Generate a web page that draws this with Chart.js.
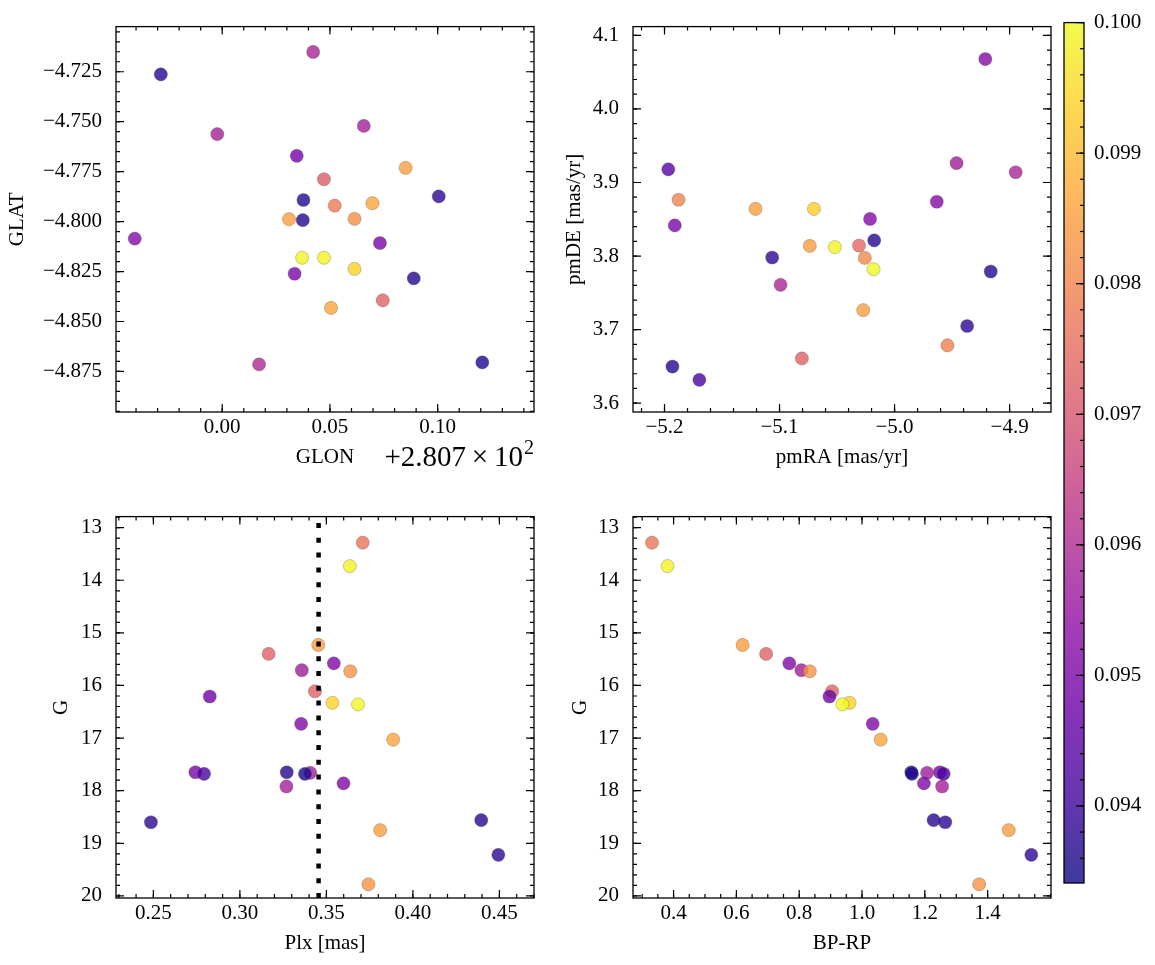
<!DOCTYPE html>
<html>
<head>
<meta charset="utf-8">
<script src="https://cdn.jsdelivr.net/npm/chart.js@4.4.1/dist/chart.umd.min.js"></script>
<style>
html, body { margin: 0; padding: 0; background: #ffffff; }
body { width: 1155px; height: 965px; position: relative; overflow: hidden; }
canvas { position: absolute; }
</style>
</head>
<body>
<canvas id="tl"></canvas>
<canvas id="tr"></canvas>
<canvas id="bl"></canvas>
<canvas id="br"></canvas>
<canvas id="cb"></canvas>
<script>
// ---------------- DATA ----------------
// Panel 1: galactic position
const glon = [280.7422, 280.6715, 280.6977, 280.7657, 280.7346, 280.7851, 280.7472, 280.7377, 280.8005, 280.7522,
              280.7697, 280.7310, 280.7374, 280.7614, 280.6594, 280.7732, 280.7371, 280.7472, 280.7614, 280.7336,
              280.7889, 280.7745, 280.7505, 280.7171, 280.8207];
const glat = [-4.7151, -4.7263, -4.7562, -4.7521, -4.7671, -4.7731, -4.7788, -4.7892, -4.7874, -4.7920,
              -4.7908, -4.7988, -4.7993, -4.7986, -4.8085, -4.8107, -4.8181, -4.8181, -4.8237, -4.8261,
              -4.8284, -4.8394, -4.8432, -4.8715, -4.8705];
const colPos = [0.0959, 0.0937, 0.0958, 0.0958, 0.0949, 0.0985, 0.0972, 0.0937, 0.0938, 0.0978,
                0.0986, 0.0985, 0.0937, 0.0982, 0.0952, 0.0950, 0.0999, 0.0999, 0.0994, 0.0950,
                0.0937, 0.0973, 0.0986, 0.0960, 0.0936];

// Panel 2: proper motions
const pmra = [-4.9211, -5.1967, -4.9461, -4.8947, -5.1878, -4.9633, -5.1209, -5.0701, -5.1911, -5.0213,
              -5.0177, -5.0737, -5.0519, -5.0309, -5.0259, -5.1064, -5.0183, -4.9164, -5.0991, -5.0272,
              -4.9369, -4.9540, -5.0806, -5.1931, -5.1697];
const pmde = [4.0678, 3.9179, 3.9263, 3.9139, 3.8765, 3.8738, 3.8641, 3.8641, 3.8416, 3.8504,
              3.8213, 3.8138, 3.8121, 3.8143, 3.7975, 3.7980, 3.7821, 3.7790, 3.7609, 3.7265,
              3.7049, 3.6785, 3.6608, 3.6498, 3.6317];
const colPm = [0.0952, 0.0944, 0.0957, 0.0959, 0.0980, 0.0952, 0.0985, 0.0993, 0.0950, 0.0952,
               0.0937, 0.0985, 0.0999, 0.0974, 0.0981, 0.0938, 0.1000, 0.0937, 0.0959, 0.0985,
               0.0938, 0.0979, 0.0973, 0.0937, 0.0942];

// Panels 3 & 4: photometry / parallax
const gmag = [13.286, 13.731, 15.23, 15.40, 15.58, 15.71, 15.73, 16.11, 16.21, 16.33,
              16.36, 16.73, 17.03, 17.65, 17.66, 17.65, 17.68, 17.68, 17.86, 17.92,
              18.56, 18.60, 18.75, 19.22, 19.78];
const plx  = [0.3710, 0.3636, 0.3453, 0.3166, 0.3543, 0.3358, 0.3638, 0.3434, 0.2826, 0.3535,
              0.3683, 0.3354, 0.3886, 0.2743, 0.3407, 0.3271, 0.3376, 0.2793, 0.3599, 0.3269,
              0.4395, 0.2486, 0.3811, 0.4494, 0.3743];
const bprp = [0.3312, 0.3807, 0.6198, 0.6947, 0.7684, 0.8070, 0.8336, 0.9048, 0.8964, 0.9604,
              0.9374, 1.0340, 1.0594, 1.248, 1.207, 1.157, 1.159, 1.260, 1.197, 1.255,
              1.228, 1.265, 1.467, 1.539, 1.373];
const colPhot = [0.0977, 0.0999, 0.0985, 0.0973, 0.0951, 0.0957, 0.0983, 0.0973, 0.0948, 0.0994,
                 0.1000, 0.0951, 0.0986, 0.0950, 0.0957, 0.0937, 0.0936, 0.0942, 0.0951, 0.0958,
                 0.0937, 0.0938, 0.0985, 0.0938, 0.0983];
const plxRef = 0.3455;

// Tick labels
const glonOffset = 280.7;
const glonTicks = [280.70, 280.75, 280.80];
const glatTicks = [-4.875, -4.850, -4.825, -4.800, -4.775, -4.750, -4.725];
const pmraTicks = [-5.2, -5.1, -5.0, -4.9];
const pmdeTicks = [3.6, 3.7, 3.8, 3.9, 4.0, 4.1];
const plxTicks  = [0.25, 0.30, 0.35, 0.40, 0.45];
const gTicks    = [13, 14, 15, 16, 17, 18, 19, 20];
const bprpTicks = [0.4, 0.6, 0.8, 1.0, 1.2, 1.4];
const cbarTicks = [0.094, 0.095, 0.096, 0.097, 0.098, 0.099, 0.100];
const cMin = 0.09341, cMax = 0.100;
const cbarRange = [[cMin, cMax]];

// ---------------- STYLE HELPERS ----------------
const FONT = "'Liberation Serif', 'DejaVu Serif', serif";
const plasmaStops = [[13,8,135],[65,4,157],[106,0,168],[143,13,164],[177,42,144],[204,71,120],
                     [225,100,98],[242,132,75],[252,166,54],[252,206,37],[240,249,33]];
function plasma(t) {
  t = Math.max(0, Math.min(1, t));
  const s = t * 10, i = Math.min(9, Math.floor(s)), f = s - i;
  const a = plasmaStops[i], b = plasmaStops[i + 1];
  return [0, 1, 2].map(k => Math.round(a[k] + (b[k] - a[k]) * f));
}
function cmap(v, alpha) {
  const c = plasma((v - cMin) / (cMax - cMin));
  return `rgba(${c[0]},${c[1]},${c[2]},${alpha})`;
}
const minus = s => s.replace(/-/g, '\u2212');

function frameTicksPlugin(cfg) {
  return {
    id: 'frameTicks',
    afterDraw(chart) {
      const { ctx, chartArea: a } = chart;
      const sx = chart.scales.x, sy = chart.scales.y;
      ctx.save();
      ctx.strokeStyle = '#000';
      ctx.lineWidth = 1.2;
      const minors = (min, max, step) => {
        const out = [];
        for (let k = Math.ceil(min / step - 1e-9); k * step <= max + 1e-12; k++) out.push(k * step);
        return out;
      };
      const hTick = (v, len) => {
        const p = sx.getPixelForValue(v);
        ctx.beginPath();
        ctx.moveTo(p, a.bottom); ctx.lineTo(p, a.bottom - len);
        ctx.moveTo(p, a.top); ctx.lineTo(p, a.top + len);
        ctx.stroke();
      };
      const vTick = (v, len) => {
        const p = sy.getPixelForValue(v);
        ctx.beginPath();
        ctx.moveTo(a.left, p); ctx.lineTo(a.left + len, p);
        ctx.moveTo(a.right, p); ctx.lineTo(a.right - len, p);
        ctx.stroke();
      };
      minors(sx.min, sx.max, cfg.xMinor).forEach(v => hTick(v, 4));
      cfg.xMajor.forEach(v => hTick(v, 8));
      minors(sy.min, sy.max, cfg.yMinor).forEach(v => vTick(v, 4));
      cfg.yMajor.forEach(v => vTick(v, 8));
      ctx.lineWidth = 1.3;
      ctx.strokeRect(a.left, a.top, a.right - a.left, a.bottom - a.top);
      ctx.restore();
    }
  };
}

function makePanel(p) {
  const cv = document.getElementById(p.id);
  cv.width = p.box.w; cv.height = p.box.h;
  cv.style.left = p.box.x + 'px'; cv.style.top = p.box.y + 'px';
  const pts = p.xs.map((x, i) => ({ x: x, y: p.ys[i] }));
  const datasets = [{
    type: 'scatter',
    data: pts,
    order: 1,
    pointRadius: 6.6,
    pointHoverRadius: 6.6,
    pointBorderWidth: 0.5,
    pointBorderColor: 'rgba(70,70,70,0.55)',
    pointBackgroundColor: ctx => cmap(p.cs[ctx.dataIndex], 0.8)
  }].concat(p.extra || []);
  const tickFont = { family: FONT, size: 21, lineHeight: 1.2 };
  return new Chart(cv, {
    type: 'scatter',
    data: { datasets },
    plugins: [frameTicksPlugin({ xMajor: p.xTicks, yMajor: p.yTicks, xMinor: p.xMinor, yMinor: p.yMinor })].concat(p.plugins || []),
    options: {
      responsive: false, animation: false, devicePixelRatio: 1,
      events: [],
      layout: { padding: { left: 0, top: p.area.t - p.box.y, right: p.box.x + p.box.w - p.area.r, bottom: 0 } },
      plugins: { legend: { display: false }, tooltip: { enabled: false } },
      scales: {
        x: {
          type: 'linear', position: 'bottom', min: p.xMin, max: p.xMax,
          grid: { display: false, drawTicks: false }, border: { display: false },
          afterBuildTicks: s => { s.ticks = p.xTicks.map(v => ({ value: v })); },
          afterFit: s => { s.height = p.box.y + p.box.h - p.area.b; },
          ticks: { autoSkip: false, maxRotation: 0, minRotation: 0, padding: p.xTickPad, color: '#000', font: tickFont,
                   callback: v => minus(p.xFmt(v)) },
          title: { display: true, text: p.xTitle, color: '#000', font: tickFont, padding: { top: 0, bottom: p.xTitlePad } }
        },
        y: {
          type: 'linear', position: 'left', min: p.yMin, max: p.yMax, reverse: !!p.reverseY,
          grid: { display: false, drawTicks: false }, border: { display: false },
          afterBuildTicks: s => { s.ticks = p.yTicks.map(v => ({ value: v })); },
          afterFit: s => { s.width = p.area.l - p.box.x; },
          ticks: { autoSkip: false, padding: 14, color: '#000', font: tickFont,
                   callback: v => minus(p.yFmt(v)) },
          title: { display: true, text: p.yTitle, color: '#000', font: tickFont, padding: { top: p.yTitlePad, bottom: 0 } }
        }
      }
    }
  });
}

const offsetTextPlugin = {
  id: 'offsetText',
  afterDraw(chart) {
    const { ctx, chartArea: a } = chart;
    ctx.save();
    ctx.fillStyle = '#000';
    ctx.textBaseline = 'alphabetic';
    const main = '+2.807\u2009\u00d7\u200910';
    ctx.font = `29px ${FONT}`;
    const w1 = ctx.measureText(main).width;
    ctx.font = `20px ${FONT}`;
    const w2 = ctx.measureText('2').width;
    const x0 = a.right - 1 - w1 - w2;
    const base = 466;
    ctx.font = `29px ${FONT}`;
    ctx.fillText(main, x0, base);
    ctx.font = `20px ${FONT}`;
    ctx.fillText('2', x0 + w1 + 1, base - 12);
    ctx.restore();
  }
};

// ---------------- PANELS ----------------
makePanel({
  id: 'tl', box: { x: 0, y: 0, w: 560, h: 490 }, area: { l: 116, t: 15, r: 534, b: 412 },
  xs: glon, ys: glat, cs: colPos,
  xMin: 280.6507, xMax: 280.8447, yMin: -4.8953, yMax: -4.7024,
  xTicks: glonTicks, yTicks: glatTicks, xMinor: 0.01, yMinor: 0.005,
  xFmt: v => (v - glonOffset).toFixed(2), yFmt: v => v.toFixed(3),
  xTitle: 'GLON', yTitle: 'GLAT', xTickPad: 3, xTitlePad: 20, yTitlePad: 5,
  plugins: [offsetTextPlugin]
});

makePanel({
  id: 'tr', box: { x: 560, y: 0, w: 520, h: 490 }, area: { l: 633, t: 15, r: 1051, b: 412 },
  xs: pmra, ys: pmde, cs: colPm,
  xMin: -5.2274, xMax: -4.864, yMin: 3.588, yMax: 4.1119,
  xTicks: pmraTicks, yTicks: pmdeTicks, xMinor: 0.02, yMinor: 0.02,
  xFmt: v => v.toFixed(1), yFmt: v => v.toFixed(1),
  xTitle: 'pmRA [mas/yr]', yTitle: 'pmDE [mas/yr]', xTickPad: 3, xTitlePad: 20, yTitlePad: 2
});

makePanel({
  id: 'bl', box: { x: 0, y: 490, w: 560, h: 475 }, area: { l: 116, t: 502, r: 534, b: 898 },
  xs: plx, ys: gmag, cs: colPhot,
  xMin: 0.2284, xMax: 0.470, yMin: 12.79, yMax: 20.04, reverseY: true,
  xTicks: plxTicks, yTicks: gTicks, xMinor: 0.01, yMinor: 0.2,
  xFmt: v => v.toFixed(2), yFmt: v => v.toFixed(0),
  xTitle: 'Plx [mas]', yTitle: 'G', xTickPad: 3, xTitlePad: 9, yTitlePad: 49,
  extra: [{
    type: 'line', order: 0,
    data: [{ x: plxRef, y: 20.04 }, { x: plxRef, y: 12.79 }],
    borderColor: '#000', borderWidth: 4.5, borderDash: [5, 9.8], borderCapStyle: 'butt',
    pointRadius: 0, showLine: true, fill: false
  }]
});

makePanel({
  id: 'br', box: { x: 560, y: 490, w: 520, h: 475 }, area: { l: 633, t: 502, r: 1051, b: 898 },
  xs: bprp, ys: gmag, cs: colPhot,
  xMin: 0.2708, xMax: 1.6017, yMin: 12.79, yMax: 20.04, reverseY: true,
  xTicks: bprpTicks, yTicks: gTicks, xMinor: 0.05, yMinor: 0.2,
  xFmt: v => v.toFixed(1), yFmt: v => v.toFixed(0),
  xTitle: 'BP-RP', yTitle: 'G', xTickPad: 3, xTitlePad: 9, yTitlePad: 8
});

// ---------------- COLORBAR ----------------
(function () {
  const box = { x: 1040, y: 0, w: 115, h: 965 }, area = { l: 1064, t: 15, r: 1084, b: 883 };
  const cv = document.getElementById('cb');
  cv.width = box.w; cv.height = box.h;
  cv.style.left = box.x + 'px'; cv.style.top = box.y + 'px';
  const cbTicksPlugin = {
    id: 'cbTicks',
    afterDraw(chart) {
      const { ctx, chartArea: a } = chart;
      const sy = chart.scales.y;
      ctx.save();
      ctx.strokeStyle = '#000';
      ctx.lineWidth = 1.2;
      const step = 0.0002;
      for (let k = Math.ceil(sy.min / step - 1e-9); k * step <= sy.max + 1e-12; k++) {
        const p = sy.getPixelForValue(k * step);
        ctx.beginPath(); ctx.moveTo(a.right, p); ctx.lineTo(a.right - 4, p); ctx.stroke();
      }
      cbarTicks.forEach(v => {
        const p = sy.getPixelForValue(v);
        ctx.beginPath(); ctx.moveTo(a.right, p); ctx.lineTo(a.right - 8, p); ctx.stroke();
      });
      ctx.lineWidth = 1.3;
      ctx.strokeRect(a.left, a.top, a.right - a.left, a.bottom - a.top);
      ctx.restore();
    }
  };
  new Chart(cv, {
    type: 'bar',
    data: {
      labels: ['c'],
      datasets: [{
        data: cbarRange,
        borderWidth: 0,
        barPercentage: 1.0,
        categoryPercentage: 1.0,
        backgroundColor: ctx => {
          const chart = ctx.chart;
          const sy = chart.scales.y;
          if (!chart.chartArea || !sy) return 'rgba(0,0,0,0)';
          const y0 = sy.getPixelForValue(cMin), y1 = sy.getPixelForValue(cMax);
          const g = chart.ctx.createLinearGradient(0, y0, 0, y1);
          for (let i = 0; i <= 20; i++) {
            const t = i / 20;
            g.addColorStop(t, cmap(cMin + t * (cMax - cMin), 0.8));
          }
          return g;
        }
      }]
    },
    plugins: [cbTicksPlugin],
    options: {
      responsive: false, animation: false, devicePixelRatio: 1, events: [],
      layout: { padding: { left: area.l - box.x, top: area.t - box.y, right: 0, bottom: box.y + box.h - area.b } },
      plugins: { legend: { display: false }, tooltip: { enabled: false } },
      scales: {
        x: { type: 'category', display: false },
        y: {
          type: 'linear', position: 'right', min: cMin, max: cMax,
          grid: { display: false, drawTicks: false }, border: { display: false },
          afterBuildTicks: s => { s.ticks = cbarTicks.map(v => ({ value: v })); },
          afterFit: s => { s.width = box.x + box.w - area.r; },
          ticks: { autoSkip: false, padding: 10, color: '#000', font: { family: FONT, size: 21, lineHeight: 1.2 },
                   callback: v => v.toFixed(3) }
        }
      }
    }
  });
})();
</script>
</body>
</html>
